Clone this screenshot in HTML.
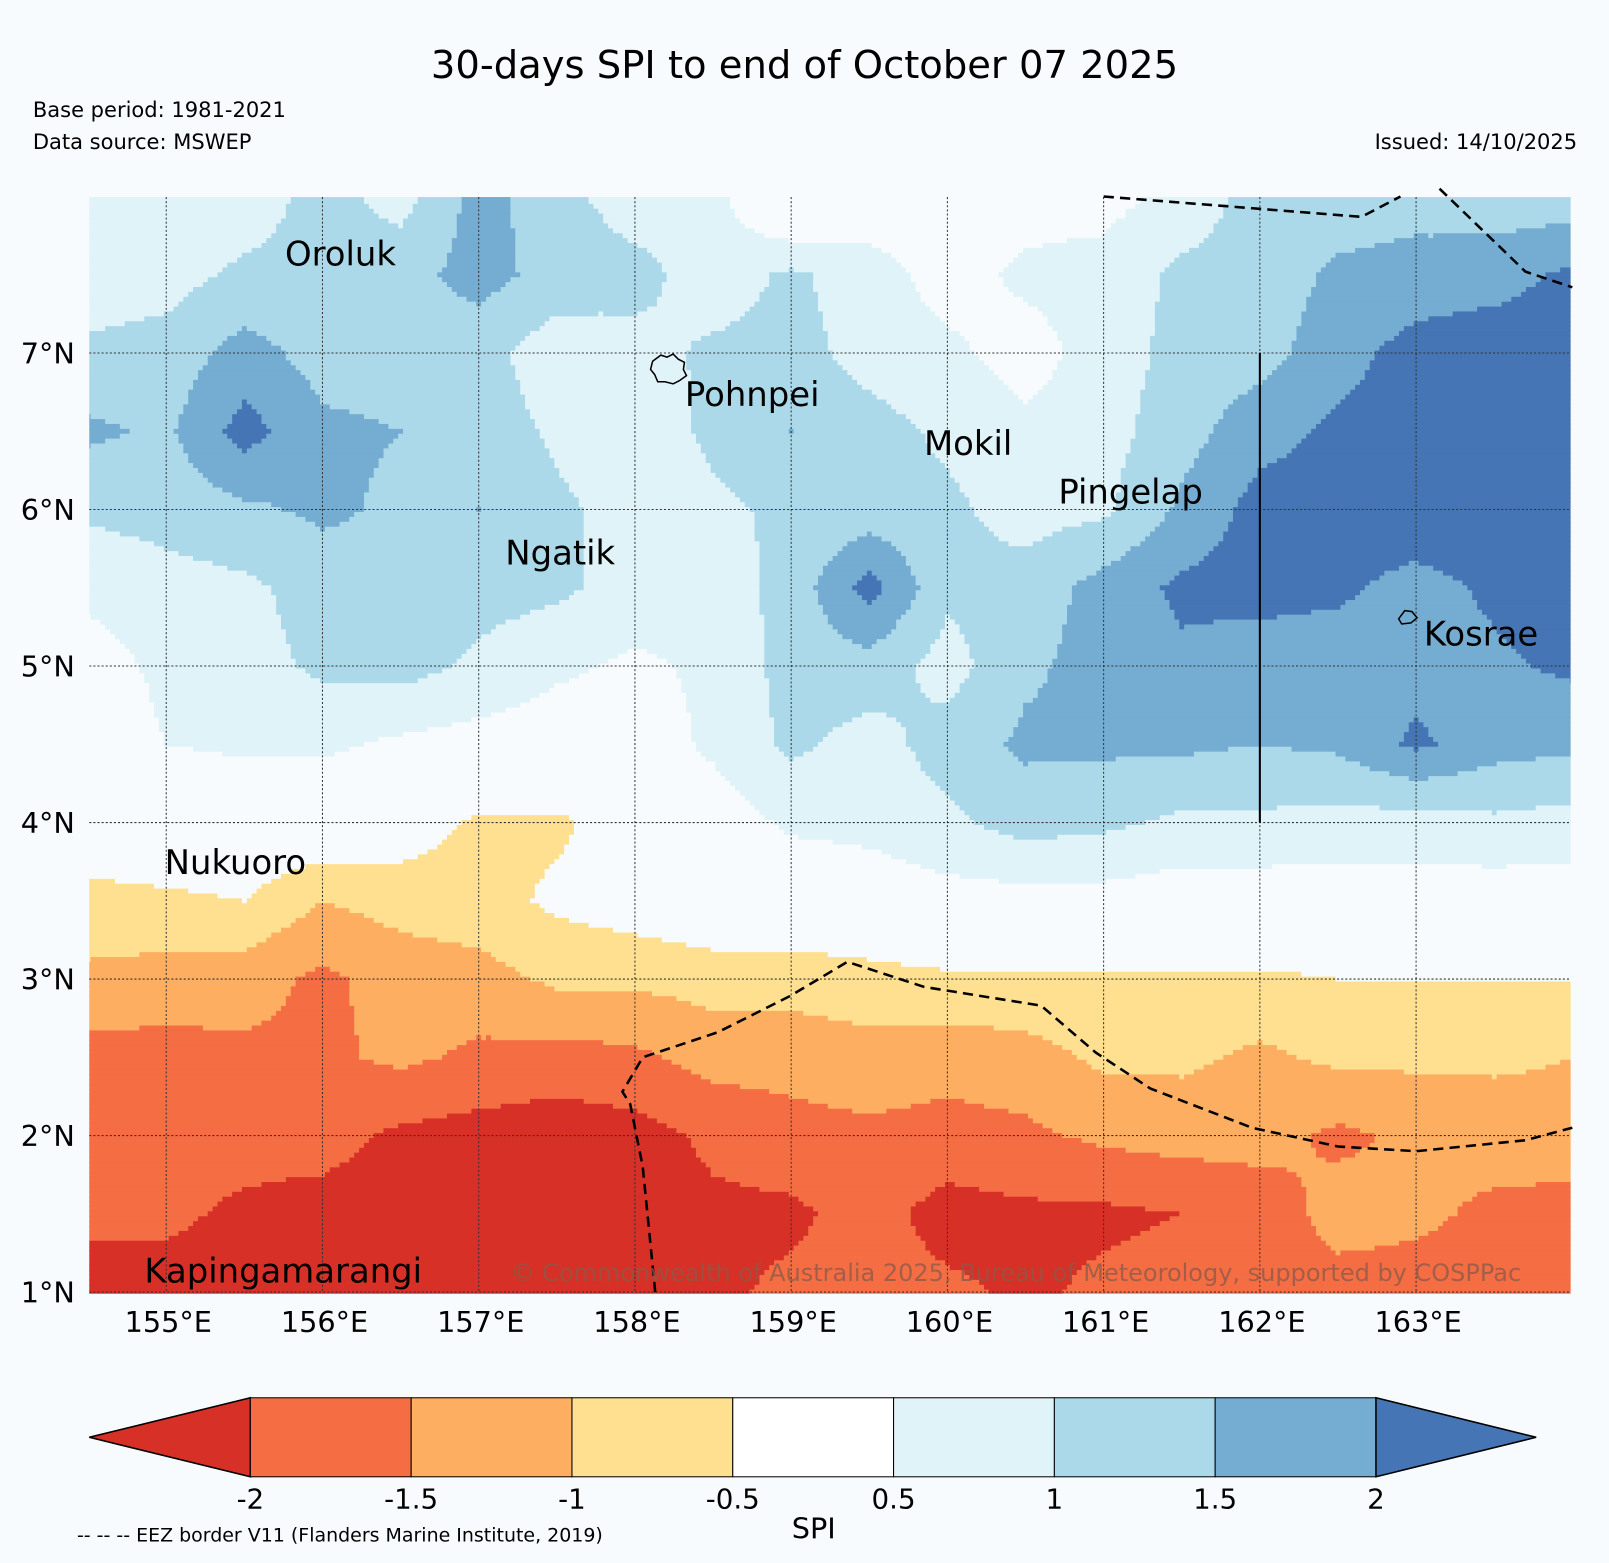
<!DOCTYPE html>
<html><head><meta charset="utf-8">
<style>
body{margin:0;background:#f7fbfd;}
svg{display:block;font-family:"DejaVu Sans","Liberation Sans",sans-serif;}
</style></head>
<body>
<svg id="chart" width="1609" height="1563" viewBox="0 0 1568 1523" preserveAspectRatio="none">
<rect width="1568" height="1523" fill="#f7fbfd"/>
<text x="784" y="76" font-size="37.5" text-anchor="middle">30-days SPI to end of October 07 2025</text>
<text x="32" y="114" font-size="20.5">Base period: 1981-2021</text>
<text x="32" y="145" font-size="20.5">Data source: MSWEP</text>
<text x="1537" y="145" font-size="20.5" text-anchor="end">Issued: 14/10/2025</text>
<g id="cells"></g>
<g id="grid"></g>
<g id="eez"></g>
<g id="labels"></g>
<g id="axes"></g>
<g id="cbar"></g>
<text x="990" y="1248" font-size="23.4" text-anchor="middle" fill="#8a5a4a" fill-opacity="0.75">© Commonwealth of Australia 2025, Bureau of Meteorology, supported by COSPPac</text>
<text x="75" y="1502" font-size="18.5">-- -- -- EEZ border V11 (Flanders Marine Institute, 2019)</text>
</svg>
<script>
const NS="http://www.w3.org/2000/svg";
const lons=[154.5,155,155.5,156,156.5,157,157.5,158,158.5,159,159.5,160,160.5,161,161.5,162,162.5,163,163.5,164];
const lats=[8,7.5,7,6.5,6,5.5,5,4.5,4,3.5,3,2.5,2,1.5,1];
const spi=[
[.7,.7,.7,1.2,.8,1.7,1.2,.7,.7,-.3,.2,.3,.3,.3,.7,1.2,1.2,1.3,1.2,1.2],
[.7,.8,1.1,1.2,1.3,1.7,1.3,1.2,.7,1.1,.7,.3,.6,.7,1.1,1.2,1.6,1.7,1.8,2.1],
[1.1,1.2,1.7,1.3,1.3,1.2,.7,.8,1.1,1.2,.8,.6,.3,.7,1.2,1.3,1.8,2.2,2.3,2.3],
[1.6,1.4,2.2,1.6,1.5,1.3,.9,.7,1.1,1.5,1.2,.9,.6,.8,1.3,1.8,2.1,2.3,2.4,2.4],
[1.1,1.2,1.4,1.6,1.4,1.5,1.1,.8,.9,1.1,1.2,1.1,.8,.9,1.6,2.2,2.3,2.4,2.4,2.4],
[.6,.8,.9,1.2,1.4,1.2,1.1,.8,.7,1.2,2.2,1.1,1.2,1.7,2.1,2.2,2.1,1.8,2.1,2.3],
[.3,.6,.8,1.1,1.2,.9,.6,.4,.6,1.2,1.3,.8,1.4,1.7,1.9,1.7,1.7,1.8,1.9,2.1],
[.2,.5,.6,.6,.4,.3,.2,.2,.6,1.1,.8,1.2,1.6,1.6,1.6,1.5,1.6,2.1,1.7,1.6],
[0,0,0,0,-.2,-.6,-.6,-.2,.2,.6,.7,.9,1.2,1.1,.9,.9,.8,.8,.9,.8],
[-.7,-.6,-.5,-1.0,-.8,-.7,-.4,-.2,0,0,.1,.3,.3,.3,.2,.2,.2,.2,.2,.2],
[-1.1,-1.2,-1.3,-1.6,-1.3,-1.2,-.9,-.9,-.8,-.8,-.7,-.6,-.6,-.6,-.6,-.6,-.5,-.5,-.5,-.5],
[-1.7,-1.7,-1.6,-1.6,-1.4,-1.6,-1.7,-1.6,-1.3,-1.3,-1.2,-1.3,-1.2,-.9,-.9,-1.1,-.9,-.9,-.9,-1.0],
[-1.7,-1.8,-1.8,-1.8,-2.1,-2.2,-2.3,-2.2,-1.9,-1.7,-1.6,-1.7,-1.6,-1.4,-1.3,-1.3,-1.6,-1.4,-1.3,-1.2],
[-1.9,-1.9,-2.1,-2.2,-2.3,-2.3,-2.3,-2.2,-2.1,-2.1,-1.8,-2.2,-2.1,-2.1,-2.0,-1.8,-1.3,-1.4,-1.6,-1.7],
[-2.2,-2.2,-2.2,-2.3,-2.3,-2.3,-2.3,-2.2,-2.1,-1.9,-1.8,-1.9,-2.1,-1.9,-1.8,-1.8,-1.7,-1.7,-1.7,-1.7]];
const levels=[-2,-1.5,-1,-0.5,0.5,1,1.5,2];
const colors=["#d73027","#f46d43","#fdae61","#fee090","#f7fbfd","#e0f3f8","#abd9e9","#74add1","#4575b4"];
const cbLabels=["-2","-1.5","-1","-0.5","0.5","1","1.5","2"];
const lonTicks=[155,156,157,158,159,160,161,162,163];
const latTicks=[7,6,5,4,3,2,1];
const islands=[["Oroluk",155.76,7.56],["Pohnpei",158.32,6.66],["Mokil",159.85,6.35],["Pingelap",160.71,6.04],["Ngatik",157.17,5.65],["Kosrae",163.05,5.13],["Nukuoro",154.99,3.67],["Kapingamarangi",154.86,1.06]];
const eezTop=[[161,8],[162.65,7.87],[162.9,8.0]];
const eezTop2=[[163.15,8.05],[163.7,7.52],[164,7.42]];
const eezBot=[[158.13,1],[158.05,1.8],[157.97,2.2],[157.92,2.28],[158.05,2.5],[158.53,2.66],[158.99,2.89],[159.36,3.11],[159.85,2.95],[160.6,2.83],[160.95,2.53],[161.3,2.3],[161.95,2.05],[162.5,1.93],[163.0,1.9],[163.7,1.97],[164,2.05]];
const X0=87,X1=1530,Y0=192,Y1=1260;
const lon2x=l=>162+(l-155)*152.25;
const lat2y=l=>344+(7-l)*152.5;
const cls=v=>{let i=0;while(i<levels.length&&v>=levels[i])i++;return i;};
function mk(tag,attrs,parent){const e=document.createElementNS(NS,tag);for(const k in attrs)e.setAttribute(k,attrs[k]);parent.appendChild(e);return e;}
const cells=document.getElementById('cells');
const sub=16,step=0.5/sub;
function val(lon,lat){
 let fi=(lon-lons[0])/0.5, fj=(lats[0]-lat)/0.5;
 let i=Math.max(0,Math.min(Math.floor(fi),lons.length-2)), j=Math.max(0,Math.min(Math.floor(fj),lats.length-2));
 let a=fi-i,b=fj-j;
 return spi[j][i]*(1-a)*(1-b)+spi[j][i+1]*a*(1-b)+spi[j+1][i]*(1-a)*b+spi[j+1][i+1]*a*b;
}
for(let lat=8;lat>1-1e-9;lat-=step){
 let runStart=null,runC=-1;
 const y=lat2y(lat+step/2), h=lat2y(lat-step/2)-y;
 const flush=(endLon)=>{if(runC<0)return;
  const x=Math.max(X0,lon2x(runStart)),xe=Math.min(X1,lon2x(endLon));
  const yy=Math.max(Y0,y),ye=Math.min(Y1,y+h);
  const r=mk('rect',{x:x,y:yy,width:xe-x+0.6,height:ye-yy+0.6,fill:colors[runC]},cells);
  
  };
 for(let lon=154.5;lon<164+1e-9;lon+=step){
  const c=cls(val(Math.min(lon,164),Math.max(lat,1)));
  if(c!==runC){flush(lon-step/2);runStart=lon-step/2;runC=c;}
 }
 flush(164+step/2);
}
const g=document.getElementById('grid');
lonTicks.forEach(l=>{const e=mk('line',{x1:lon2x(l),x2:lon2x(l),y1:Y0,y2:Y1,stroke:'#333','stroke-width':1,'stroke-dasharray':'2,2'},g);
 });
latTicks.forEach(l=>{const e=mk('line',{y1:lat2y(l),y2:lat2y(l),x1:X0,x2:X1,stroke:'#333','stroke-width':1,'stroke-dasharray':'2,2'},g);
 });
const vl=mk('line',{x1:lon2x(162),x2:lon2x(162),y1:lat2y(7),y2:lat2y(4),stroke:'#000','stroke-width':2},g);

const ez=document.getElementById('eez');
[eezTop,eezTop2,eezBot].forEach(p=>{const e=mk('polyline',{points:p.map(q=>lon2x(q[0])+','+lat2y(q[1])).join(' '),fill:'none',stroke:'#000','stroke-width':2.5,'stroke-dasharray':'10,6'},ez);
 });
const lb=document.getElementById('labels');
islands.forEach(s=>{const t=mk('text',{x:lon2x(s[1]),y:lat2y(s[2]),'font-size':33},lb);t.textContent=s[0];
 });
const pp=mk('path',{d:'M636,352 l8,-6 6,2 6,-3 5,5 6,3 -1,7 3,6 -7,5 -6,3 -8,-2 -7,0 -3,-7 -4,-5 z',fill:'none',stroke:'#000','stroke-width':1.5},lb);

const ko=mk('path',{d:'M1363,603 l6,-8 7,1 5,6 -6,5 -9,1 z',fill:'none',stroke:'#000','stroke-width':1.5},lb);

const ax=document.getElementById('axes');
lonTicks.forEach(l=>{const t=mk('text',{x:lon2x(l)+2,y:1298,'font-size':28,'text-anchor':'middle'},ax);t.textContent=l+'°E';
 });
latTicks.forEach(l=>{const t=mk('text',{x:73,y:lat2y(l)+10,'font-size':28,'text-anchor':'end'},ax);t.textContent=l+'°N';
 });
const cb=document.getElementById('cbar');
const cx0=244,cw=156.7,cy=1362,ch=77;
const lt=mk('polygon',{points:`87,${cy+ch/2} ${cx0},${cy} ${cx0},${cy+ch}`,fill:colors[0],stroke:'#000','stroke-width':1.5},cb);

for(let i=1;i<colors.length-1;i++){const r=mk('rect',{x:cx0+(i-1)*cw,y:cy,width:cw,height:ch,fill:colors[i]==="#f7fbfd"?"#ffffff":colors[i],stroke:'#000','stroke-width':1},cb);
 }
const rt=mk('polygon',{points:`${cx0+7*cw},${cy} 1497,${cy+ch/2} ${cx0+7*cw},${cy+ch}`,fill:colors[8],stroke:'#000','stroke-width':1.5},cb);

cbLabels.forEach((s,i)=>{const t=mk('text',{x:cx0+i*cw,y:1470,'font-size':27,'text-anchor':'middle'},cb);t.textContent=s;
 });
const st=mk('text',{x:793,y:1499,'font-size':28,'text-anchor':'middle'},cb);st.textContent='SPI';

</script>
</body></html>
